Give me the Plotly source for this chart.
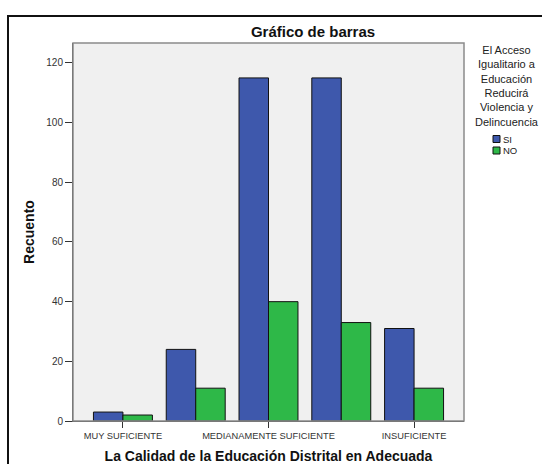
import plotly.graph_objects as go

categories = [
    "MUY SUFICIENTE",
    "SUFICIENTE",
    "MEDIANAMENTE SUFICIENTE",
    "POCO SUFICIENTE",
    "INSUFICIENTE",
]
shown_labels = ["MUY SUFICIENTE", "MEDIANAMENTE SUFICIENTE", "INSUFICIENTE"]
si_values = [3, 24, 115, 115, 31]
no_values = [2, 11, 40, 33, 11]
y_ticks = [0, 20, 40, 60, 80, 100, 120]
series_names = ["SI", "NO"]
legend_title = "El Acceso<br>Igualitario a<br>Educación<br>Reducirá<br>Violencia y<br>Delincuencia"

BLUE = "#3e58ac"
GREEN = "#2eb848"
FONT = "Liberation Sans, Arial, sans-serif"

W, H = 542, 464
L, R, T, B = 73, 78, 43, 43
pw, ph = W - L - R, H - T - B


def px_x(x):
    """Page pixel -> paper x."""
    return (x - L) / pw


def px_y(y):
    """Page pixel -> paper y."""
    return (H - B - y) / ph


fig = go.Figure()
for name, values, color in zip(series_names, [si_values, no_values], [BLUE, GREEN]):
    fig.add_trace(
        go.Bar(
            x=categories,
            y=values,
            name=name,
            marker={"color": color, "line": {"color": "#111111", "width": 1}},
            hovertemplate="%{x}<br>" + name + "=%{y}<extra></extra>",
        )
    )

# hand-built legend: small swatches with tight spacing like the original
shapes = []
annotations = [
    dict(text=legend_title, x=px_x(507), y=px_y(86), xref="paper", yref="paper",
         showarrow=False, xanchor="center", yanchor="middle", align="center",
         font={"family": FONT, "size": 11, "color": "#222222"})
]
for i, (name, color) in enumerate(zip(series_names, [BLUE, GREEN])):
    cy = 139 + i * 11.5
    shapes.append(
        dict(type="rect", xref="paper", yref="paper",
             x0=px_x(493), x1=px_x(500), y0=px_y(cy + 3.5), y1=px_y(cy - 3.5),
             fillcolor=color, line={"color": "#111111", "width": 1})
    )
    annotations.append(
        dict(text=name, x=px_x(500.5), y=px_y(cy), xref="paper", yref="paper",
             showarrow=False, xanchor="left", yanchor="middle",
             font={"family": FONT, "size": 9.5, "color": "#222222"})
    )

shapes += [
    # gray plot frame
    dict(type="rect", xref="paper", yref="paper", x0=0, y0=0, x1=1, y1=1,
         line={"color": "#8a8a8a", "width": 1.5}, layer="above"),
    # outer chart frame (right and bottom edges fall outside the view)
    dict(type="rect", xref="paper", yref="paper",
         x0=px_x(8), y0=px_y(490), x1=px_x(570), y1=px_y(16),
         line={"color": "#111111", "width": 2}),
]

fig.update_layout(
    width=W,
    height=H,
    margin={"l": L, "r": R, "t": T, "b": B, "autoexpand": False},
    paper_bgcolor="white",
    plot_bgcolor="#f0f0f0",
    font={"family": FONT, "color": "#222222"},
    title={
        "text": "<b>Gráfico de barras</b>",
        "x": 313 / W,
        "xanchor": "center",
        "y": 1 - 32 / H,
        "yanchor": "middle",
        "font": {"size": 15, "color": "#111111"},
    },
    barmode="group",
    bargap=0.19,
    bargroupgap=0,
    showlegend=False,
    annotations=annotations,
    shapes=shapes,
    xaxis={
        "type": "category",
        "categoryorder": "array",
        "categoryarray": categories,
        "range": [-0.686, 4.686],
        "tickvals": shown_labels,
        "ticktext": shown_labels,
        "ticks": "outside",
        "ticklen": 6,
        "tickcolor": "#333333",
        "tickfont": {"size": 9.3, "color": "#333333"},
        "showline": True,
        "linecolor": "#444444",
        "showgrid": False,
        "title": {
            "text": "<b>La Calidad de la Educación Distrital en Adecuada</b>",
            "font": {"size": 14, "color": "#111111"},
            "standoff": 13,
        },
    },
    yaxis={
        "range": [0, 126.7],
        "tickvals": y_ticks,
        "ticks": "outside",
        "ticklen": 7,
        "tickcolor": "#333333",
        "tickfont": {"size": 10, "color": "#333333"},
        "showline": True,
        "linecolor": "#444444",
        "showgrid": False,
        "zeroline": False,
        "title": {
            "text": "<b>Recuento</b>",
            "font": {"size": 14, "color": "#111111"},
            "standoff": 8,
        },
    },
)

fig.write_html(
    "out.html",
    config={"displayModeBar": False},
    post_script="document.body.style.margin='0';document.body.style.overflow='hidden';",
)
